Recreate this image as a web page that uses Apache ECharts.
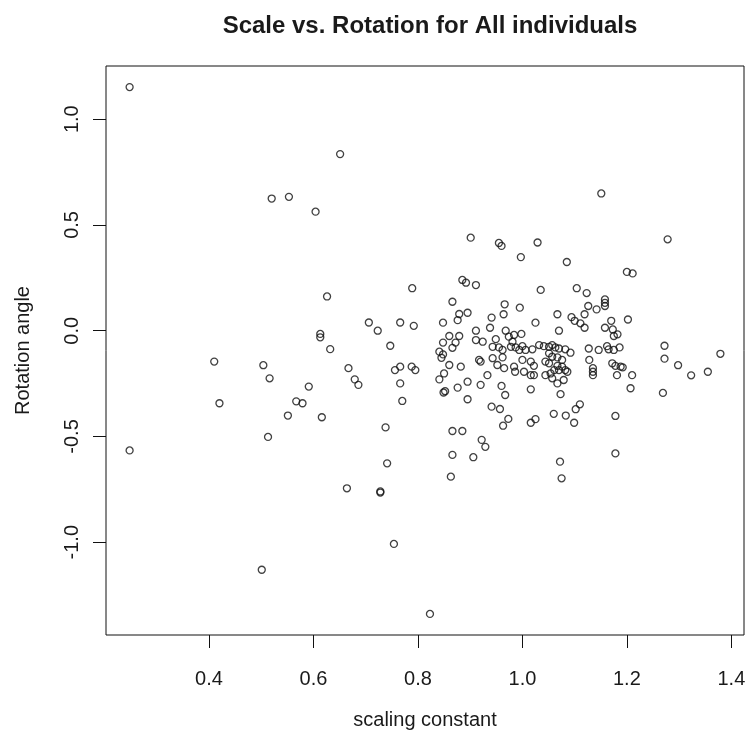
<!DOCTYPE html>
<html><head><meta charset="utf-8">
<script src="https://cdn.jsdelivr.net/npm/echarts@6/dist/echarts.min.js"></script>
<style>html,body{margin:0;padding:0;background:#fff}#c{width:745px;height:731px}</style>
</head><body><div id="c"></div>
<script>
const scale = [0.248,0.520,0.553,0.604,0.651,0.901,0.955,0.960,0.997,1.029,1.085,1.151,1.278,1.200,1.211,
0.410,0.504,0.516,0.591,0.567,0.579,0.420,0.551,0.513,0.248,
0.626,0.789,0.885,0.892,0.911,0.866,0.879,0.895,0.876,0.964,0.941,0.706,0.723,0.766,0.792,0.848,
0.613,0.613,0.632,0.747,0.938,0.911,0.860,0.879,0.872,0.848,0.866,0.841,0.848,0.845,0.911,0.924,
0.949,0.943,0.955,0.962,0.917,0.920,0.962,0.943,0.952,0.965,0.860,0.882,0.667,0.679,0.686,0.616,
0.756,0.766,0.788,0.795,0.766,0.770,0.738,0.841,0.850,0.849,0.852,0.876,0.895,0.920,0.895,0.933,
0.960,0.967,0.941,0.957,0.973,0.963,0.866,0.885,0.922,0.929,0.866,0.906,0.968,0.966,
0.995,1.035,1.104,1.123,1.158,1.158,1.158,1.126,1.142,1.119,1.067,1.025,1.094,1.100,1.111,1.119,
1.070,1.170,1.158,1.173,1.182,1.175,1.202,0.974,0.984,0.998,0.981,0.978,0.987,1.000,0.994,1.006,
1.019,1.032,1.041,1.051,1.057,1.063,1.070,1.082,1.092,1.051,1.057,1.067,1.076,1.044,1.051,1.067,
1.070,1.061,1.054,1.076,1.082,1.086,1.044,1.057,1.067,1.079,0.984,0.986,1.000,1.016,1.022,1.003,
1.016,1.022,1.016,1.073,1.016,1.025,1.060,1.083,1.099,1.110,1.102,1.127,1.146,1.162,1.165,1.175,
1.186,1.128,1.135,1.135,1.135,1.172,1.178,1.188,1.192,1.181,1.210,1.207,1.178,1.178,1.272,1.272,
1.298,1.323,1.355,1.379,1.269,
0.501,0.741,0.664,0.728,0.728,0.754,0.823,0.863,1.072,1.075];
const rotation = [1.152,0.625,0.633,0.563,0.835,0.440,0.415,0.401,0.348,0.417,0.325,0.649,0.432,0.278,0.271,
-0.146,-0.163,-0.225,-0.264,-0.334,-0.343,-0.343,-0.401,-0.502,-0.566,
0.162,0.201,0.240,0.227,0.216,0.137,0.079,0.085,0.050,0.078,0.062,0.039,0.000,0.039,0.023,0.038,
-0.015,-0.031,-0.087,-0.071,0.014,0.000,-0.025,-0.025,-0.056,-0.056,-0.081,-0.099,-0.112,-0.128,-0.044,-0.052,
-0.040,-0.076,-0.079,-0.091,-0.138,-0.146,-0.126,-0.130,-0.162,-0.177,-0.162,-0.170,-0.177,-0.230,-0.256,-0.409,
-0.186,-0.170,-0.170,-0.186,-0.249,-0.332,-0.457,-0.230,-0.202,-0.292,-0.286,-0.269,-0.241,-0.256,-0.324,-0.210,
-0.261,-0.304,-0.359,-0.370,-0.417,-0.449,-0.474,-0.474,-0.516,-0.549,-0.587,-0.598,0.000,0.125,
0.109,0.193,0.201,0.178,0.148,0.132,0.117,0.117,0.101,0.078,0.078,0.038,0.064,0.047,0.035,0.014,
0.000,0.047,0.014,0.006,-0.017,-0.025,0.053,-0.028,-0.020,-0.015,-0.052,-0.076,-0.079,-0.073,-0.091,-0.091,
-0.088,-0.068,-0.073,-0.076,-0.068,-0.079,-0.084,-0.088,-0.104,-0.107,-0.123,-0.126,-0.138,-0.146,-0.154,-0.166,
-0.186,-0.186,-0.202,-0.170,-0.186,-0.194,-0.210,-0.225,-0.249,-0.233,-0.170,-0.194,-0.138,-0.146,-0.166,-0.194,
-0.210,-0.210,-0.277,-0.300,-0.435,-0.418,-0.393,-0.401,-0.435,-0.348,-0.371,-0.084,-0.091,-0.073,-0.088,-0.091,
-0.079,-0.138,-0.177,-0.194,-0.210,-0.154,-0.166,-0.170,-0.173,-0.210,-0.210,-0.272,-0.403,-0.580,-0.071,-0.132,
-0.163,-0.211,-0.194,-0.109,-0.294,
-1.130,-0.627,-0.745,-0.760,-0.765,-1.008,-1.339,-0.690,-0.619,-0.698];
const xTicks = [0.4, 0.6, 0.8, 1.0, 1.2, 1.4];
const yTicks = [-1.0, -0.5, 0.0, 0.5, 1.0];
const titleText = 'Scale vs. Rotation for All individuals';
const xName = 'scaling constant';
const yName = 'Rotation angle';

const points = scale.map((x, i) => [x, rotation[i]]);
const FONT = '"Liberation Sans", Arial, sans-serif';
const ink = '#1a1a1a';
const chart = echarts.init(document.getElementById('c'), null, {renderer: 'canvas'});
chart.setOption({
  animation: false,
  backgroundColor: '#fff',
  title: {
    text: titleText, left: 425, top: 9, textAlign: 'center',
    textStyle: {fontFamily: FONT, fontWeight: 'bold', fontSize: 24, color: ink}
  },
  grid: {left: 106, top: 66, width: 638, height: 569, show: true, borderColor: '#111', borderWidth: 1,
    containLabel: false, outerBoundsMode: 'none'},
  xAxis: {
    type: 'value', min: 0.2028, max: 1.4242,
    name: xName, nameLocation: 'middle', nameGap: 75,
    nameTextStyle: {fontFamily: FONT, fontSize: 20, color: ink},
    axisLine: {show: false, onZero: false},
    splitLine: {show: false},
    axisTick: {show: true, inside: false, length: 13, customValues: xTicks, lineStyle: {color: '#111', width: 1}},
    axisLabel: {customValues: xTicks, margin: 34, fontFamily: FONT, fontSize: 20, color: ink,
      hideOverlap: false, formatter: v => v.toFixed(1)}
  },
  yAxis: {
    type: 'value', min: -1.4386, max: 1.2516,
    name: yName, nameLocation: 'middle', nameGap: 73, nameRotate: 90,
    nameTextStyle: {fontFamily: FONT, fontSize: 20, color: ink},
    axisLine: {show: false, onZero: false},
    splitLine: {show: false},
    axisTick: {show: true, inside: false, length: 13, customValues: yTicks, lineStyle: {color: '#111', width: 1}},
    axisLabel: {customValues: yTicks, margin: 24, rotate: 90, fontFamily: FONT, fontSize: 20, color: ink,
      formatter: v => v.toFixed(1)}
  },
  series: [{
    type: 'scatter', data: points, symbol: 'circle', symbolSize: 7,
    itemStyle: {color: 'rgba(0,0,0,0)', borderColor: '#111', borderWidth: 1.3},
    emphasis: {disabled: true}
  }]
});
</script></body></html>
